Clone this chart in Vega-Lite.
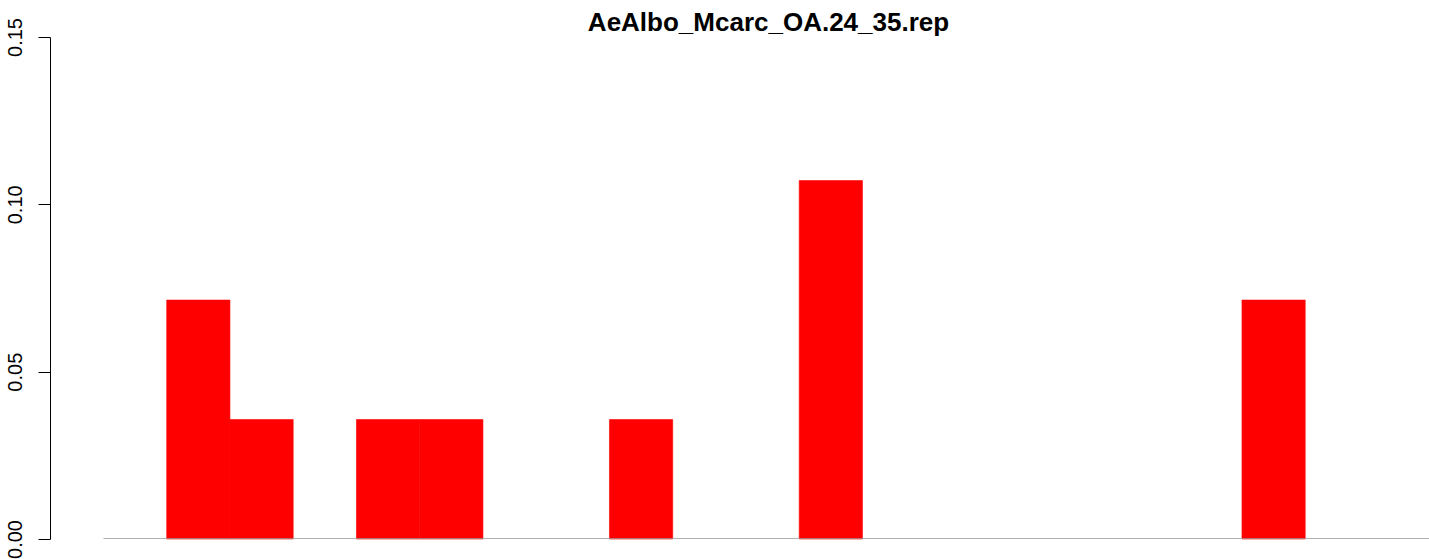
{
  "$schema": "https://vega.github.io/schema/vega-lite/v6.json",
  "autosize": "none",
  "width": 1379,
  "height": 502,
  "padding": {"left": 50, "top": 37, "right": 0, "bottom": 20},
  "background": "white",
  "title": {
    "text": "AeAlbo_Mcarc_OA.24_35.rep",
    "font": "Liberation Sans",
    "fontSize": 26,
    "fontWeight": "bold",
    "color": "black",
    "anchor": "middle",
    "frame": "group",
    "baseline": "bottom",
    "offset": -44,
    "dx": 29
  },
  "config": {"view": {"stroke": null}},
  "layer": [
    {
      "data": {"values": [
        {"start": 0, "end": 1, "density": 0.0714},
        {"start": 1, "end": 2, "density": 0.0357},
        {"start": 3, "end": 4, "density": 0.0357},
        {"start": 4, "end": 5, "density": 0.0357},
        {"start": 7, "end": 8, "density": 0.0357},
        {"start": 10, "end": 11, "density": 0.1071},
        {"start": 17, "end": 18, "density": 0.0714}
      ]},
      "mark": {"type": "rect", "color": "#ff0000", "stroke": "#ff0000", "strokeWidth": 0.6},
      "encoding": {
        "x": {"field": "start", "type": "quantitative", "scale": {"domain": [-1.845, 19.957], "nice": false, "zero": false}, "axis": null},
        "x2": {"field": "end"},
        "y": {"field": "density", "type": "quantitative", "scale": {"domain": [0, 0.15], "nice": false},
          "axis": {"values": [0, 0.05, 0.1, 0.15], "format": ".2f", "title": null, "grid": false,
            "domainColor": "black", "domainWidth": 1, "tickColor": "black", "tickWidth": 1, "tickSize": 12,
            "labelAngle": -90, "labelAlign": "center", "labelBaseline": "bottom", "labelPadding": 13,
            "labelFont": "Liberation Sans", "labelFontSize": 20, "labelColor": "black", "labelFlush": false, "labelOverlap": false}},
        "y2": {"datum": 0}
      }
    },
    {
      "data": {"values": [{"from": -1, "to": 20, "level": 0}]},
      "mark": {"type": "rule", "color": "#999999", "strokeWidth": 1.5, "clip": true},
      "encoding": {
        "x": {"field": "from", "type": "quantitative"},
        "x2": {"field": "to"},
        "y": {"field": "level", "type": "quantitative"}
      }
    }
  ]
}
